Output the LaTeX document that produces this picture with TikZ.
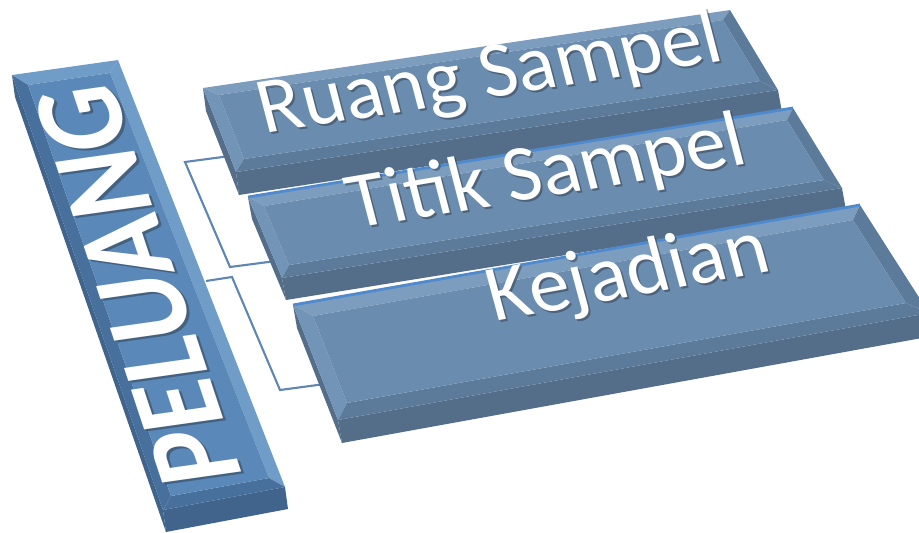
\documentclass[tikz,border=0pt]{standalone}
\usepackage{fontspec}
\setmainfont{Carlito}
\usepackage{tikz}

\definecolor{barblue}{RGB}{90,136,184}
\definecolor{barlight}{RGB}{112,156,200}
\definecolor{bardark}{RGB}{72,112,156}
\definecolor{barside}{RGB}{64,100,140}
\definecolor{boxblue}{RGB}{106,140,174}
\definecolor{boxlight}{RGB}{124,157,190}
\definecolor{boxmid}{RGB}{114,148,182}
\definecolor{boxdark}{RGB}{92,122,153}
\definecolor{boxside}{RGB}{84,110,138}
\definecolor{linkblue}{RGB}{95,135,180}
\definecolor{rimblue}{RGB}{78,138,205}
\definecolor{shade}{RGB}{40,50,62}

\begin{document}
\begin{tikzpicture}[x=0.1mm, y=-0.1mm]
	\tikzstyle{link} = [draw=linkblue, line width=0.6pt, line join=miter]
	\tikzstyle{rim} = [draw=rimblue, line width=0.8pt]
	\tikzstyle{label} = [inner sep=0, text=white, font=\fontsize{23}{25}\selectfont]
	\tikzstyle{labelsh} = [label, text=shade, opacity=0.45]
	\tikzstyle{title} = [inner sep=0, text=white, font=\bfseries\fontsize{35}{35}\selectfont]
	\clip (0,0) rectangle (919,533);
	% bar on the left
	\coordinate (p1) at (12,75);
	\coordinate (p2) at (118,60);
	\coordinate (p3) at (285,487);
	\coordinate (p4) at (163,510);
	\coordinate (p5) at (28,85);
	\coordinate (p6) at (110,73);
	\coordinate (p7) at (269,478);
	\coordinate (p8) at (171,496);
	\coordinate (p9) at (166,532);
	\coordinate (p10) at (288,509);
	\coordinate (p11) at (15,97);
	% first box
	\coordinate (r1) at (203,88);
	\coordinate (r2) at (730,10);
	\coordinate (r3) at (778,90);
	\coordinate (r4) at (236,172);
	\coordinate (r5) at (219,95);
	\coordinate (r6) at (723,20);
	\coordinate (r7) at (760,81);
	\coordinate (r8) at (244,159);
	\coordinate (r9) at (239,195);
	\coordinate (r10) at (782,112);
	\coordinate (r11) at (206,111);
	% second box
	\coordinate (t1) at (248,197);
	\coordinate (t2) at (793,108);
	\coordinate (t3) at (842,188);
	\coordinate (t4) at (282,278);
	\coordinate (t5) at (264,206);
	\coordinate (t6) at (787,120);
	\coordinate (t7) at (824,180);
	\coordinate (t8) at (289,265);
	\coordinate (t9) at (286,300);
	\coordinate (t10) at (846,210);
	\coordinate (t11) at (252,219);
	% third box
	\coordinate (k1) at (293,305);
	\coordinate (k2) at (860,205);
	\coordinate (k3) at (929,313);
	\coordinate (k4) at (338,420);
	\coordinate (k5) at (313,316);
	\coordinate (k6) at (853,220);
	\coordinate (k7) at (906,303);
	\coordinate (k8) at (347,403);
	\coordinate (k9) at (342,443);
	\coordinate (k10) at (933,336);
	\coordinate (k11) at (297,328);
	% brackets
	\coordinate (a1) at (230,156);
	\coordinate (a2) at (185,162);
	\coordinate (a3) at (230,267);
	\coordinate (a4) at (276,261);
	\coordinate (b1) at (206,281);
	\coordinate (b2) at (232,277);
	\coordinate (b3) at (280,390);
	\coordinate (b4) at (325,384);
	\draw[link] (a1) -- (a2) -- (a3) -- (a4);
	\draw[link] (b1) -- (b2) -- (b3) -- (b4);

	\fill[barside] (p1) -- (p4) -- (p9) -- (p11) -- cycle;
	\fill[barside] (p4) -- (p3) -- (p10) -- (p9) -- cycle;
	\fill[barlight] (p1) -- (p2) -- (p6) -- (p5) -- cycle;
	\fill[bardark] (p1) -- (p5) -- (p8) -- (p4) -- cycle;
	\fill[barlight] (p2) -- (p3) -- (p7) -- (p6) -- cycle;
	\fill[bardark] (p4) -- (p8) -- (p7) -- (p3) -- cycle;
	\fill[barblue] (p5) -- (p6) -- (p7) -- (p8) -- cycle;

	\foreach \b in {r,t,k} {
		\fill[boxside] (\b1) -- (\b4) -- (\b9) -- (\b11) -- cycle;
		\fill[boxside] (\b4) -- (\b3) -- (\b10) -- (\b9) -- cycle;
		\fill[boxlight] (\b1) -- (\b2) -- (\b6) -- (\b5) -- cycle;
		\fill[boxmid] (\b1) -- (\b5) -- (\b8) -- (\b4) -- cycle;
		\fill[boxdark] (\b2) -- (\b3) -- (\b7) -- (\b6) -- cycle;
		\fill[boxdark] (\b4) -- (\b8) -- (\b7) -- (\b3) -- cycle;
		\fill[boxblue] (\b5) -- (\b6) -- (\b7) -- (\b8) -- cycle;
	}
	\draw[rim] (t1) -- (t2);
	\draw[rim] (k1) -- (k2);

	\node[title, text=shade, opacity=0.45, anchor=center, cm={-0.271,0.817,-0.99,-0.14,(0,0)}] (pelsh) at (141,287) {PELUANG};
	\node[title, anchor=center, cm={-0.271,0.817,-0.99,-0.14,(0,0)}] (pel) at (138,285) {PELUANG};
	\node[labelsh, anchor=base, cm={0.99,0.158,-0.25,0.96,(0,0)}] (ruangsh) at (497,99) {Ruang Sampel};
	\node[label, anchor=base, cm={0.99,0.158,-0.25,0.96,(0,0)}] (ruang) at (495,97) {Ruang Sampel};
	\node[labelsh, anchor=base, cm={0.99,0.165,-0.25,0.96,(0,0)}] (titiksh) at (554,198) {Titik Sampel};
	\node[label, anchor=base, cm={0.99,0.165,-0.25,0.96,(0,0)}] (titik) at (552,196) {Titik Sampel};
	\node[labelsh, anchor=base, cm={0.99,0.182,-0.26,0.96,(0,0)}] (kejadiansh) at (636,298) {Kejadian};
	\node[label, anchor=base, cm={0.99,0.182,-0.26,0.96,(0,0)}] (kejadian) at (634,296) {Kejadian};
\end{tikzpicture}
\end{document}
